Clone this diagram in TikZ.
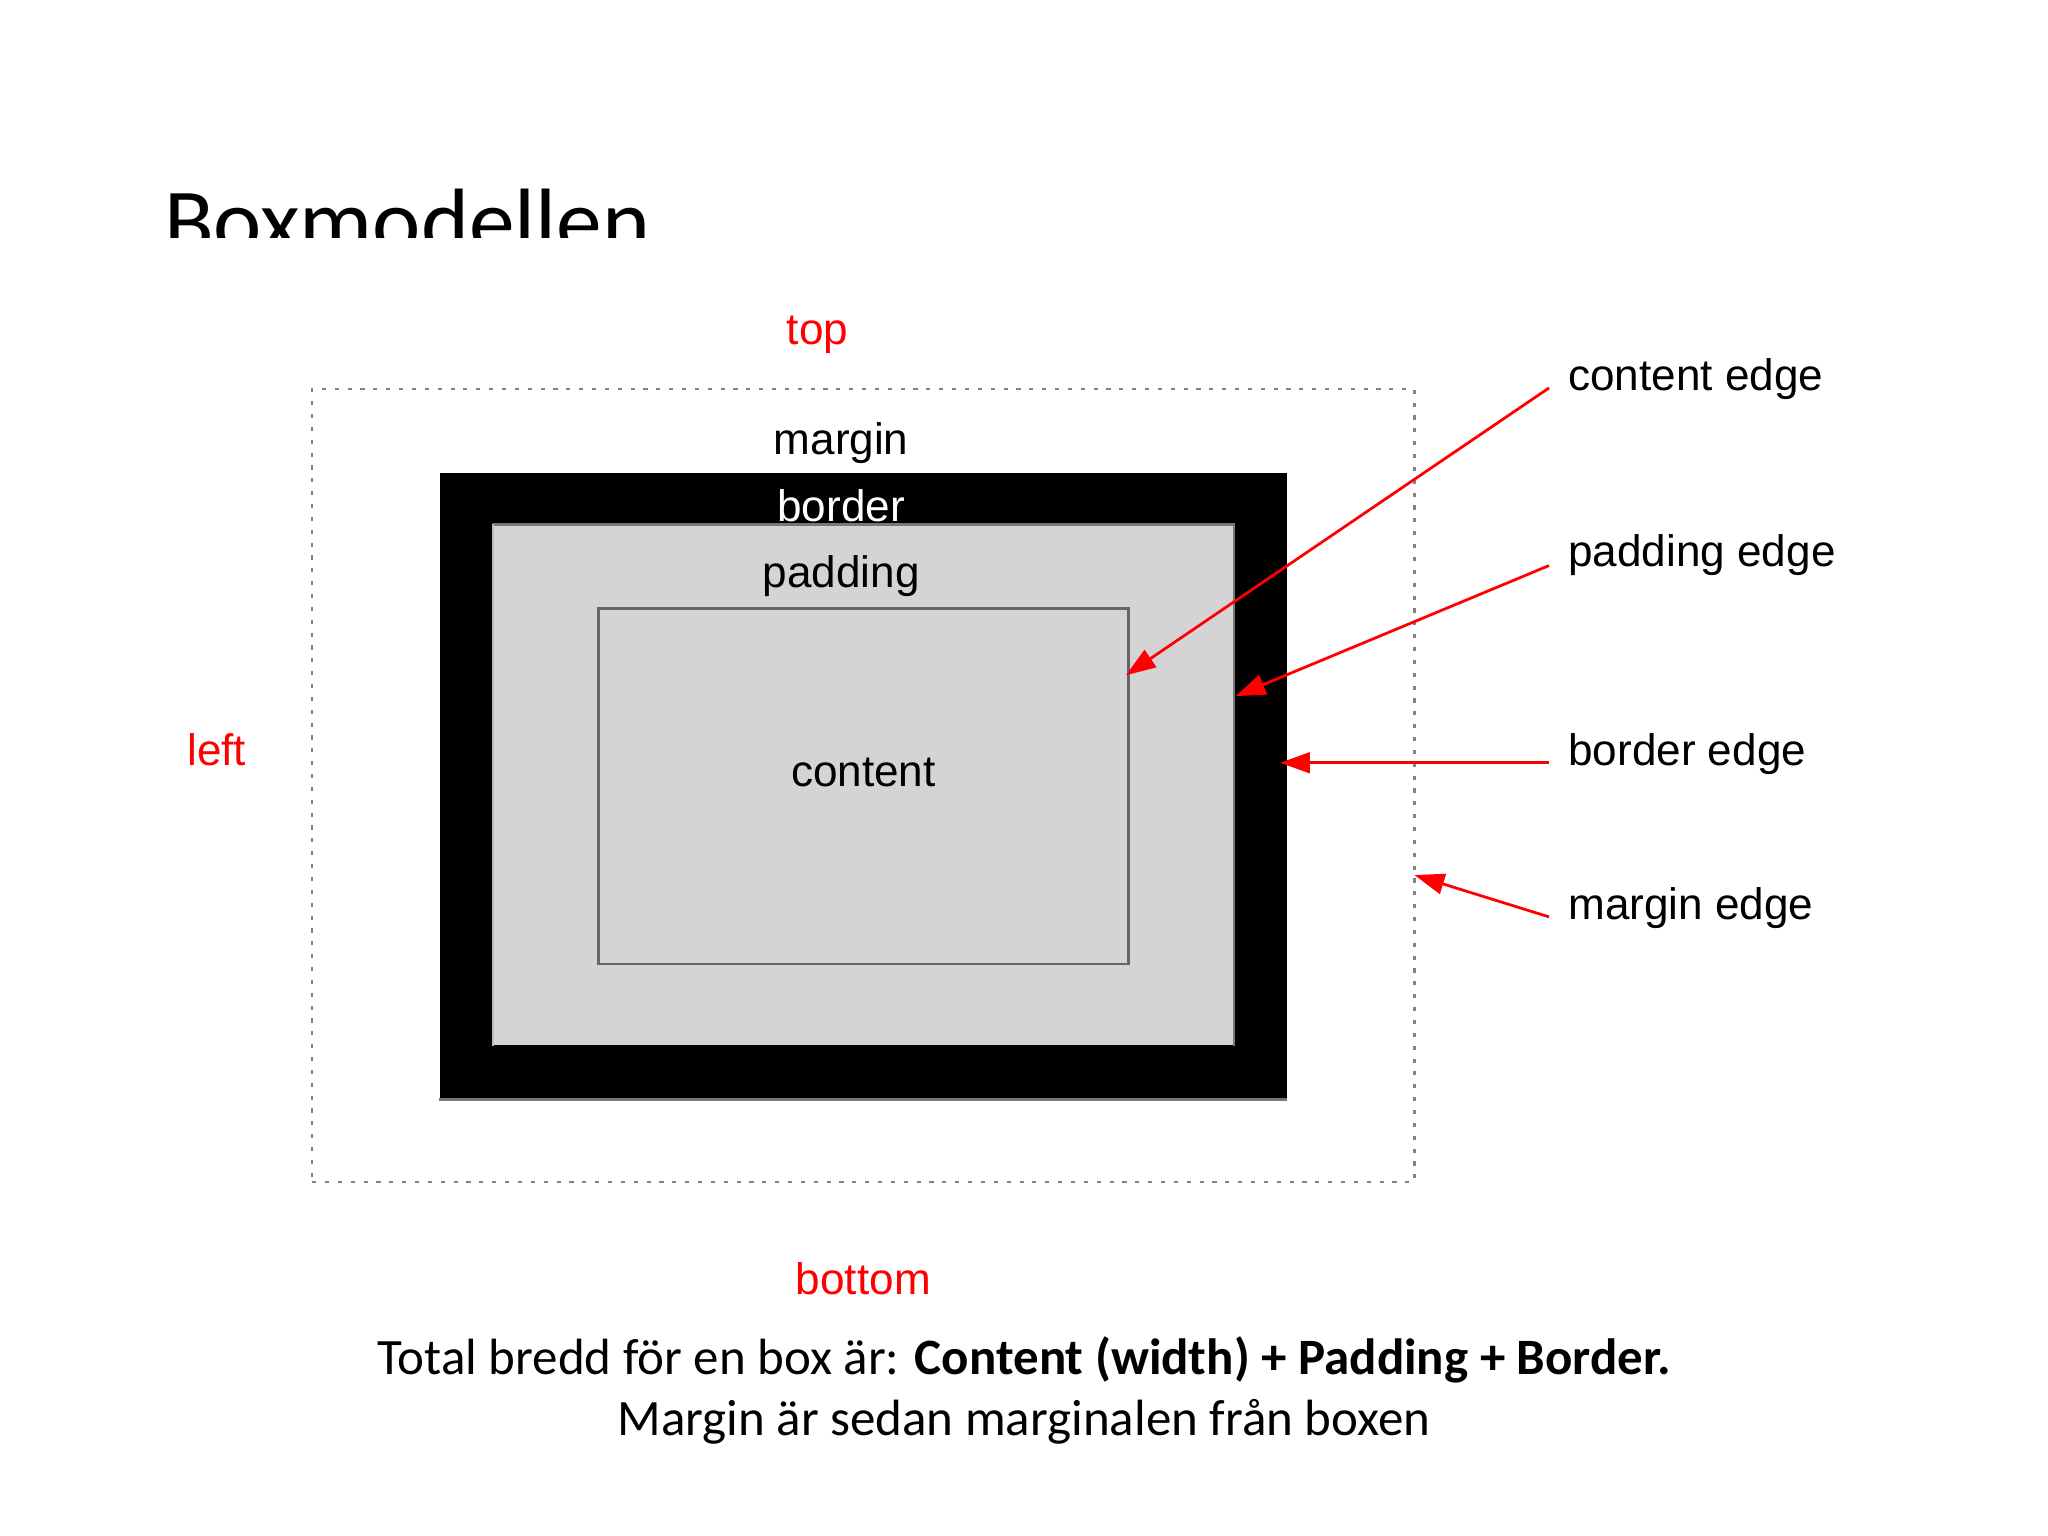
\documentclass[tikz,border=0pt]{standalone}
\usepackage{fontspec}
\setmainfont{Carlito}
\newfontfamily\helv{Liberation Sans}
\usetikzlibrary{arrows.meta,fit}
\definecolor{padgray}{RGB}{212,211,214}
\definecolor{edgegray}{RGB}{120,120,120}
\definecolor{dotgray}{RGB}{130,130,130}
\tikzset{
  lbl/.style={font=\helv\fontsize{9.6}{11}\selectfont, inner sep=0pt},
  redlbl/.style={lbl, text=red},
  edgelbl/.style={lbl, inner xsep=4pt, inner ysep=0pt, anchor=base west},
  arr/.style={draw=red, line width=0.6pt, -{Triangle[length=6.5pt,width=4.5pt]}},
  body/.style={font=\fontsize{11.1}{13}\selectfont, inner sep=0pt, anchor=base}
}
\begin{document}
\begin{tikzpicture}[x=0.01cm,y=-0.01cm]
\useasboundingbox[fill=white] (0,0) rectangle (1568,1176);

% title (clipped at bottom)
\begin{scope}
\clip (0,0) rectangle (1568,182);
\node[font=\fontsize{19.9}{22}\selectfont, inner sep=0pt, anchor=base west] (title) at (125,193) {Boxmodellen};
\end{scope}

% margin box
\coordinate (m1) at (239,298);
\coordinate (m2) at (1083,905);
\node[fit=(m1)(m2), inner sep=0pt, draw=dotgray, line width=0.45pt, dash pattern=on 0.9pt off 1.9pt] (marginbox) {};

% border box
\coordinate (b1) at (337,362);
\coordinate (b2) at (985,841);
\node[fit=(b1)(b2), inner sep=0pt, fill=black] (borderbox) {};
\draw[edgegray, line width=0.6pt] (borderbox.south west) -- (borderbox.south east);

% padding box
\coordinate (p1) at (378,402);
\coordinate (p2) at (944,800);
\node[fit=(p1)(p2), inner sep=0pt, fill=padgray] (paddingbox) {};
\draw[edgegray, line width=0.6pt] (paddingbox.north west) -- (paddingbox.north east) -- (paddingbox.south east);
\draw[edgegray!50, line width=0.4pt] (paddingbox.north west) -- (paddingbox.south west);

% content box
\coordinate (c1) at (458,466);
\coordinate (c2) at (864,738);
\node[fit=(c1)(c2), inner sep=0pt, fill=padgray, draw=black!60, line width=0.6pt] (contentbox) {};

% box labels
\node[lbl, anchor=base] (lmargin) at (644,348) {margin};
\node[lbl, anchor=base, text=white] (lborder) at (644,399) {border};
\node[lbl, anchor=base] (lpadding) at (644,450) {padding};
\node[lbl, anchor=base] (lcontent) at (661,602) {content};

% side labels
\node[redlbl, anchor=base] (ltop) at (626,264) {top};
\node[redlbl, anchor=base] (lleft) at (166,586) {left};
\node[redlbl, anchor=base] (lbottom) at (661,991) {bottom};

% edge labels
\node[edgelbl] (ce) at (1186,299) {content edge};
\node[edgelbl] (pe) at (1186,434) {padding edge};
\node[edgelbl] (be) at (1186,586) {border edge};
\node[edgelbl] (me) at (1186,704) {margin edge};

% arrow tips
\coordinate (ceT) at (862,517);
\coordinate (peT) at (946,533);
\coordinate (beT) at (980,584);
\coordinate (meT) at (1083,670);
\coordinate (ceS) at (1186,297);
\coordinate (peS) at (1186,433);
\coordinate (beS) at (1186,584);
\coordinate (meS) at (1186,702);

\draw[arr] (ceS) -- (ceT);
\draw[arr] (peS) -- (peT);
\draw[arr] (beS) -- (beT);
\draw[arr] (meS) -- (meT);

% bottom text
\node[body] (line1) at (784,1052) {Total bredd för en box är: \textbf{Content (width) + Padding + Border.}};
\node[body] (line2) at (784,1099) {Margin är sedan marginalen från boxen};
\end{tikzpicture}
\end{document}
